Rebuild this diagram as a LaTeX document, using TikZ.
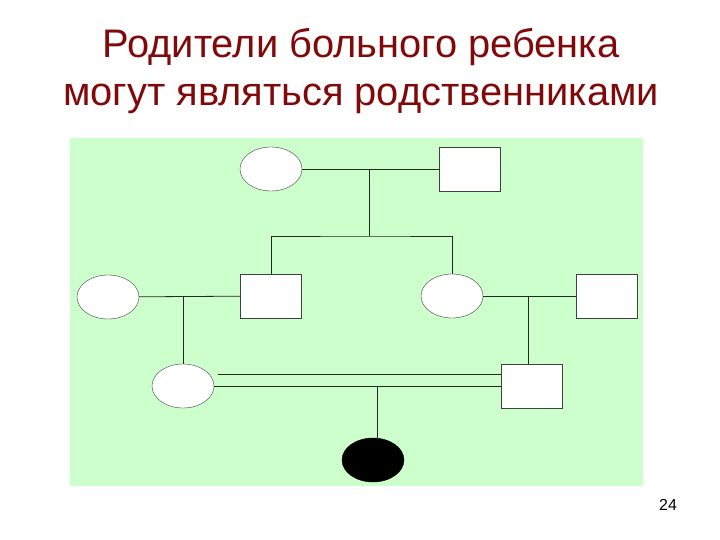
\documentclass[tikz,border=0pt]{standalone}
\usepackage{fontspec}
\setmainfont{Liberation Sans}
\usepackage{xcolor}
\usetikzlibrary{shapes.geometric, positioning}
\definecolor{titlered}{RGB}{128,10,10}
\definecolor{bggreen}{RGB}{204,255,204}

\begin{document}
\begin{tikzpicture}[x=1bp, y=-1bp,
  female/.style={ellipse, draw=black!75, fill=white, minimum width=62bp, minimum height=44bp, inner sep=0pt},
  male/.style={rectangle, draw=black!75, fill=white, minimum width=61bp, minimum height=44bp, inner sep=0pt},
  sick/.style={female, draw=black, fill=black},
  link/.style={draw=black!85, line width=0.8pt}]
\useasboundingbox (0,0) rectangle (720,540);
\fill [bggreen] (70,138) rectangle (643,486);
% title
\node [anchor=base, text=titlered, font=\fontsize{40}{48}\selectfont] (title1) at (361,58) {Родители больного ребенка};
\node [anchor=base, text=titlered, font=\fontsize{40}{48}\selectfont] (title2) at (361,106) {могут являться родственниками};
% generation I
\node [female] (w1) at (271,169) {};
\node [male] (h1) at (470,169) {};
% generation II
\node [female] (w2) at (108,297) {};
\node [male] (h2) at (271,296) {};
\node [female] (w3) at (452,296) {};
\node [male] (h3) at (607,296) {};
% generation III
\node [female] (w4) at (183,386) {};
\node [male] (h4) at (532,386) {};
% generation IV
\node [sick] (child) at (373,460) {};
% lines
\coordinate (c1) at (369,169);
\coordinate (s1) at (369,236);
\coordinate (c2) at (183,297);
\coordinate (c3) at (528,296);
\coordinate (u1) at (218,374);
\coordinate (c4) at (377,387);
\draw [link] (w1) -- (h1);
\draw [link] (c1) -- (s1);
\draw [link] (h2.north) |- (s1) -| (w3.north);
\draw [link] (w2) -- (h2);
\draw [link] (c2) -- (w4.north);
\draw [link] (w3) -- (h3);
\draw [link] (c3) -- (c3 |- h4.north);
\draw [link] (w4) -- (h4);
\draw [link] (u1) -- (u1 -| h4.west);
\draw [link] (c4) -- (c4 |- child.north);
% page number
\node [font=\fontsize{16}{18}\selectfont] (page) at (668,505) {24};
\end{tikzpicture}
\end{document}
